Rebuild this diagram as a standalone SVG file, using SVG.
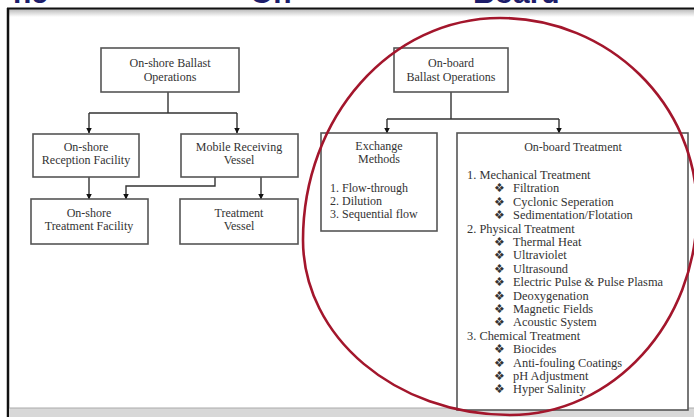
<svg xmlns="http://www.w3.org/2000/svg" width="694" height="417" viewBox="0 0 694 417">
<defs>
<linearGradient id="topband" x1="0" y1="0" x2="0" y2="1">
<stop offset="0" stop-color="#b8b8b8"/>
<stop offset="1" stop-color="#ffffff"/>
</linearGradient>
<marker id="ah" viewBox="0 0 10 10" refX="9" refY="5" markerWidth="4" markerHeight="4" orient="auto">
<path d="M0,0 L10,5 L0,10 z" fill="#111"/>
</marker>
<style>
.box{fill:#fff;stroke:#555;stroke-width:1.6}
.t{font-family:"Liberation Serif","Times New Roman",serif;font-size:12px;fill:#333}
.l{font-size:12.4px}
.c{text-anchor:middle}
.ln{fill:none;stroke:#333;stroke-width:1.4}
.hd{font-family:"Liberation Sans",Arial,sans-serif;font-size:30px;font-weight:bold;fill:#1c1c6a}
</style>
</defs>
<rect x="0" y="0" width="694" height="417" fill="#fff"/>
<text class="hd" x="13" y="3">ne</text>
<text class="hd" x="250" y="3">On</text>
<text class="hd" x="473" y="3">Board</text>
<rect x="8" y="9" width="686" height="8" fill="url(#topband)"/>
<line x1="7" y1="8.5" x2="694" y2="8.5" stroke="#111" stroke-width="2"/>
<line x1="8" y1="8" x2="8" y2="417" stroke="#111" stroke-width="2.5"/>
<rect x="9" y="408" width="685" height="9" fill="#d8d8d8"/>
<line x1="9" y1="408" x2="694" y2="408" stroke="#aaa" stroke-width="1"/>

<g id="connectors">
<path class="ln" d="M168,92 V113 M89,113 H237"/>
<path class="ln" d="M89,113 V133" marker-end="url(#ah)"/>
<path class="ln" d="M237,113 V133" marker-end="url(#ah)"/>
<path class="ln" d="M89,177 V199" marker-end="url(#ah)"/>
<path class="ln" d="M215,177 V186 H126 V199" marker-end="url(#ah)"/>
<path class="ln" d="M261,177 V199" marker-end="url(#ah)"/>
<path class="ln" d="M451,92 V119 M387,119 H559"/>
<path class="ln" d="M387,119 V133" marker-end="url(#ah)"/>
<path class="ln" d="M559,119 V133" marker-end="url(#ah)"/>
</g>

<g id="onshore-ops">
<rect class="box" x="101" y="48" width="138" height="44"/>
<text class="t c" x="170" y="67">On-shore Ballast</text>
<text class="t c" x="170" y="81">Operations</text>
</g>
<g id="reception">
<rect class="box" x="33" y="134" width="106" height="43"/>
<text class="t c" x="86" y="151">On-shore</text>
<text class="t c" x="86" y="164">Reception Facility</text>
</g>
<g id="mobile">
<rect class="box" x="181" y="134" width="117" height="43"/>
<text class="t c" x="239" y="151">Mobile Receiving</text>
<text class="t c" x="239" y="164">Vessel</text>
</g>
<g id="onshore-treatment">
<rect class="box" x="31" y="199" width="117" height="45"/>
<text class="t c" x="89" y="217">On-shore</text>
<text class="t c" x="89" y="230">Treatment Facility</text>
</g>
<g id="treatment-vessel">
<rect class="box" x="180" y="199" width="118" height="45"/>
<text class="t c" x="239" y="217">Treatment</text>
<text class="t c" x="239" y="230">Vessel</text>
</g>

<g id="onboard-ops">
<rect class="box" x="394" y="48" width="114" height="44"/>
<text class="t c" x="451" y="67">On-board</text>
<text class="t c" x="451" y="81">Ballast Operations</text>
</g>
<g id="exchange">
<rect class="box" x="321" y="133" width="116" height="98"/>
<text class="t c" x="379" y="150">Exchange</text>
<text class="t c" x="379" y="163">Methods</text>
<text class="t" x="330" y="192">1. Flow-through</text>
<text class="t" x="330" y="205">2. Dilution</text>
<text class="t" x="330" y="218">3. Sequential flow</text>
</g>
<g id="onboard-treatment">
<rect class="box" x="457" y="133" width="231" height="277"/>
<text class="t c" x="573" y="151">On-board Treatment</text>
<text class="t l" x="467" y="179">1. Mechanical Treatment</text>
<text class="t" x="494" y="192.4">❖</text><text class="t l" x="513" y="192.4">Filtration</text>
<text class="t" x="494" y="205.8">❖</text><text class="t l" x="513" y="205.8">Cyclonic Seperation</text>
<text class="t" x="494" y="219.2">❖</text><text class="t l" x="513" y="219.2">Sedimentation/Flotation</text>
<text class="t l" x="467" y="232.6">2. Physical Treatment</text>
<text class="t" x="494" y="246">❖</text><text class="t l" x="513" y="246">Thermal Heat</text>
<text class="t" x="494" y="259.4">❖</text><text class="t l" x="513" y="259.4">Ultraviolet</text>
<text class="t" x="494" y="272.8">❖</text><text class="t l" x="513" y="272.8">Ultrasound</text>
<text class="t" x="494" y="286.2">❖</text><text class="t l" x="513" y="286.2">Electric Pulse &amp; Pulse Plasma</text>
<text class="t" x="494" y="299.6">❖</text><text class="t l" x="513" y="299.6">Deoxygenation</text>
<text class="t" x="494" y="313">❖</text><text class="t l" x="513" y="313">Magnetic Fields</text>
<text class="t" x="494" y="326.4">❖</text><text class="t l" x="513" y="326.4">Acoustic System</text>
<text class="t l" x="467" y="339.8">3. Chemical Treatment</text>
<text class="t" x="494" y="353.2">❖</text><text class="t l" x="513" y="353.2">Biocides</text>
<text class="t" x="494" y="366.6">❖</text><text class="t l" x="513" y="366.6">Anti-fouling Coatings</text>
<text class="t" x="494" y="380">❖</text><text class="t l" x="513" y="380">pH Adjustment</text>
<text class="t" x="494" y="393.4">❖</text><text class="t l" x="513" y="393.4">Hyper Salinity</text>
</g>

<path id="circle" d="M500,18 C609,18 697,104 697,210 C697,323 613,415 510,415 C396,415 303,337 303,240 C303,117 391,18 500,18 Z" fill="none" stroke="#a3162c" stroke-width="2.6"/>
</svg>
